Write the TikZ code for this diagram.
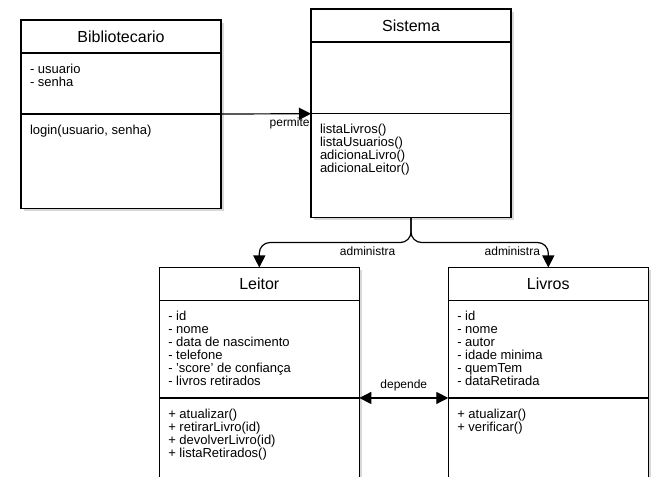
\documentclass[tikz,border=0pt]{standalone}
\usepackage{fontspec}
\setmainfont{Liberation Sans}
\usepackage{xcolor}
\usepackage{tikz}
\usetikzlibrary{positioning,arrows.meta,shadows}

\begin{document}
\begin{tikzpicture}[x=0.75pt,y=-0.75pt,>={Triangle[length=9pt,width=9pt]},
  every node/.style={outer sep=0pt},
  box/.style={draw,line width=1pt,fill=white,inner sep=0pt,minimum width=150pt,
    drop shadow={shadow xshift=2pt,shadow yshift=-2pt,opacity=0.3}},
  classname/.style={box,minimum height=24.75pt,font=\fontsize{12}{14}\selectfont},
  members/.style={anchor=north west,inner sep=0pt,align=left,font=\fontsize{9.75}{9.75}\selectfont},
  rel/.style={line width=0.9pt},
  lbl/.style={font=\fontsize{9}{11}\selectfont}]
  \useasboundingbox (0,0) rectangle (657,477);
  \clip (0,0) rectangle (657,477);
  \fill[white] (0,0) rectangle (657,477);

  % Row 1: Bibliotecario and Sistema
  \node[classname,anchor=north west] (bibName) at (21,20) {Bibliotecario};
  \node[box,minimum height=45.75pt,below=0pt of bibName] (bibAttr) {};
  \node[box,minimum height=70.9pt,below=0pt of bibAttr] (bibMeth) {};
  \node[members] (bibAttrTxt) at ([shift={(6.75pt,-8pt)}]bibAttr.north west) {- usuario\\- senha};
  \node[members] (bibMethTxt) at ([shift={(6.75pt,-8pt)}]bibMeth.north west) {login(usuario, senha)};

  \node[classname,anchor=north west] (sisName) at (311,9) {Sistema};
  \node[box,minimum height=53.8pt,below=0pt of sisName] (sisAttr) {};
  \node[box,minimum height=77.85pt,below=0pt of sisAttr] (sisMeth) {};
  \node[members] (sisMethTxt) at ([shift={(6.75pt,-8pt)}]sisMeth.north west)
    {listaLivros()\\listaUsuarios()\\adicionaLivro()\\adicionaLeitor()};

  % Row 2: Leitor and Livros
  \node[classname,anchor=north west] (leiName) at (159.3,267.5) {Leitor};
  \node[box,minimum height=73.1pt,below=0pt of leiName] (leiAttr) {};
  \node[box,minimum height=80pt,below=0pt of leiAttr] (leiMeth) {};
  \node[members] (leiAttrTxt) at ([shift={(6.75pt,-8pt)}]leiAttr.north west)
    {- id\\- nome\\- data de nascimento\\- telefone\\- 'score' de confiança\\- livros retirados};
  \node[members] (leiMethTxt) at ([shift={(6.75pt,-8pt)}]leiMeth.north west)
    {+ atualizar()\\+ retirarLivro(id)\\+ devolverLivro(id)\\+ listaRetirados()};

  \node[classname,anchor=north west] (livName) at (448.3,267.5) {Livros};
  \node[box,minimum height=73.1pt,below=0pt of livName] (livAttr) {};
  \node[box,minimum height=80pt,below=0pt of livAttr] (livMeth) {};
  \node[members] (livAttrTxt) at ([shift={(6.75pt,-8pt)}]livAttr.north west)
    {- id\\- nome\\- autor\\- idade minima\\- quemTem\\- dataRetirada};
  \node[members] (livMethTxt) at ([shift={(6.75pt,-8pt)}]livMeth.north west)
    {+ atualizar()\\+ verificar()};

  \draw[rel,->] (bibAttr.south east) -- (sisAttr.south west)
    node[lbl,anchor=north east,inner sep=1pt,yshift=-2pt,pos=1] {permite};
  \draw[rel,->,rounded corners=8pt] (sisMeth.south) -- ++(0,25) -| (leiName.north)
    node[lbl,below,pos=0.143] {administra};
  \draw[rel,->,rounded corners=8pt] (sisMeth.south) -- ++(0,25) -| (livName.north)
    node[lbl,below,pos=0.369] {administra};
  \draw[rel,<->] (leiAttr.south east) -- (livAttr.south west)
    node[lbl,midway,above=2pt] {depende};
\end{tikzpicture}
\end{document}
